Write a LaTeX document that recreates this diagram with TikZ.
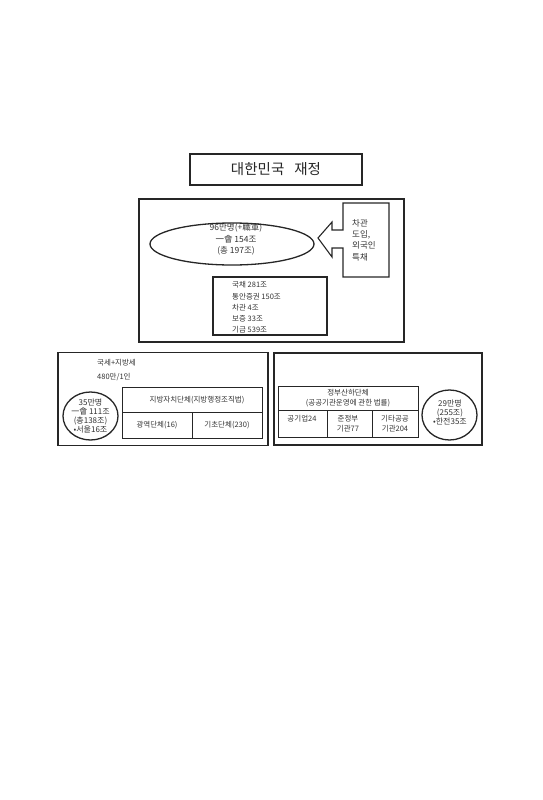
\documentclass[tikz,border=0pt]{standalone}
\usepackage{fontspec}
\setmainfont{Noto Sans CJK KR}
\usetikzlibrary{shapes.geometric}
\begin{document}
\begin{tikzpicture}[x=1pt,y=-1pt,
  box/.style={draw=black!85,line width=1.1pt,inner sep=0pt,rectangle},
  cell/.style={draw=black!85,line width=0.9pt,inner sep=0pt,rectangle},
  oval/.style={draw=black!85,line width=1.3pt,ellipse,inner sep=0pt},
  txt/.style={text=black!80,inner sep=0pt,align=center},
  small/.style={font=\fontsize{7.5}{9.2}\selectfont},
  mid/.style={font=\fontsize{8.5}{11.3}\selectfont}]
\useasboundingbox (0,0) rectangle (542,800);
% title
\node[box,minimum width=172pt,minimum height=31pt,font=\fontsize{14.5}{16}\selectfont,text=black!85] (title) at (276,169.5) {대한민국\hspace{10pt}재정};
% big box
\node[box,minimum width=265pt,minimum height=143pt] (big) at (271.5,270.5) {};
\node[oval,minimum width=164pt,minimum height=42pt] (ell) at (232,244) {};
\node[txt,mid] (elltxt) at (236,239.5) {96만명(+職軍)\\一會 154조\\(총 197조)};
% arrow box
\draw[black!85,line width=1.1pt,line join=miter]
  (343,203) -- (389,203) -- (389,277) -- (343,277) -- (343,248) -- (332,248)
  -- (332,257) -- (318,238) -- (332,222) -- (332,230) -- (343,230) -- cycle;
\node[txt,mid,align=left,anchor=west] (arrtxt) at (352,240) {차관\\도입,\\외국인\\특채};
% list box
\node[box,minimum width=114pt,minimum height=58pt] (list) at (270,306) {};
\node[txt,small,align=left,anchor=west,font=\fontsize{7.5}{11.2}\selectfont] (listtxt) at (232,307.5) {국채 281조\\통안증권 150조\\차관 4조\\보증 33조\\기금 539조};
% bottom left
\node[box,minimum width=210pt,minimum height=93pt] (lbox) at (163,399) {};
\node[txt,small,anchor=west] (tax) at (97,363) {국세+지방세};
\node[txt,small,anchor=west] (perp) at (97,377) {480만/1인};
\node[oval,minimum width=55pt,minimum height=48pt] (lcirc) at (90.5,416) {};
\node[txt,small,font=\fontsize{8}{9}\selectfont] (lctxt) at (90.5,416.5) {35만명\\一會 111조\\(총138조)\\•서울16조};
\node[cell,minimum width=140pt,minimum height=25pt] (lhead) at (192,399.5) {};
\node[txt,small] (lheadtxt) at (197,400) {지방자치단체(지방행정조직법)};
\node[cell,minimum width=70pt,minimum height=26pt,txt,small,draw=black!85] (lc1) at (157,425) {광역단체(16)};
\node[cell,minimum width=70pt,minimum height=26pt,txt,small,draw=black!85] (lc2) at (227,425) {기초단체(230)};
% bottom right
\node[box,minimum width=208pt,minimum height=92pt] (rbox) at (378,399) {};
\node[cell,minimum width=140pt,minimum height=24pt] (rhead) at (348,398) {};
\node[txt,small,font=\fontsize{7.5}{10}\selectfont] (rheadtxt) at (348,398.5) {정부산하단체\\(공공기관운영에 관한 법률)};
\node[cell,minimum width=49pt,minimum height=27pt] (rc1) at (302.5,423.5) {};
\node[cell,minimum width=45pt,minimum height=27pt] (rc2) at (349.5,423.5) {};
\node[cell,minimum width=46pt,minimum height=27pt] (rc3) at (395,423.5) {};
\node[txt,small,anchor=north] (rc1txt) at (302,415.5) {공기업24};
\node[txt,small,anchor=north,font=\fontsize{7.5}{10}\selectfont] (rc2txt) at (348,415.5) {준정부\\기관77};
\node[txt,small,anchor=north,font=\fontsize{7.5}{10}\selectfont] (rc3txt) at (395,415.5) {기타공공\\기관204};
\node[oval,minimum width=55pt,minimum height=50pt] (rcirc) at (449.5,415) {};
\node[txt,small,font=\fontsize{8}{9}\selectfont] (rctxt) at (450,412) {29만명\\(255조)\\•한전35조};
\end{tikzpicture}
\end{document}
